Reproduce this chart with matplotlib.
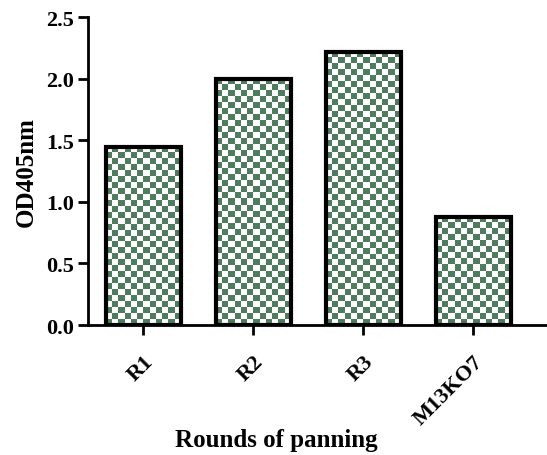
import matplotlib
matplotlib.use("Agg")
import matplotlib.pyplot as plt
import numpy as np

rounds = ["R1", "R2", "R3", "M13KO7"]
od405 = [1.45, 2.00, 2.22, 0.88]

plt.rcParams["font.family"] = ["Liberation Serif", "DejaVu Serif"]
plt.rcParams["font.weight"] = "bold"

fig = plt.figure(figsize=(5.47, 4.56), dpi=100)
ax = fig.add_axes([0.161, 0.285, 0.839, 0.675])

x = np.arange(len(rounds))
bars = ax.bar(x, od405, width=0.68, facecolor="none", edgecolor="black",
              linewidth=3.0, zorder=3)

ax.set_xlim(-0.5, 3.67)
ax.set_ylim(0, 2.5)
fig.canvas.draw()

# checkerboard fill inside each bar
green = np.array([0.31, 0.49, 0.37])
cell = 6  # pixels
for b in bars:
    bx, by = b.get_x(), b.get_y()
    bw, bh = b.get_width(), b.get_height()
    p0 = ax.transData.transform((bx, by))
    p1 = ax.transData.transform((bx + bw, by + bh))
    nx = max(1, int(round((p1[0] - p0[0]) / cell)))
    ny = max(1, int(round((p1[1] - p0[1]) / cell)))
    ii, jj = np.meshgrid(np.arange(nx), np.arange(ny))
    mask = (ii + jj) % 2 == 0
    img = np.ones((ny, nx, 3))
    img[mask] = green
    ax.imshow(img, extent=(bx, bx + bw, by, by + bh), origin="lower",
              interpolation="nearest", aspect="auto", zorder=2)

ax.set_xlim(-0.5, 3.67)
ax.set_ylim(0, 2.5)

ax.spines["top"].set_visible(False)
ax.spines["right"].set_visible(False)
ax.spines["left"].set_linewidth(2)
ax.spines["bottom"].set_linewidth(2)

ax.set_yticks([0.0, 0.5, 1.0, 1.5, 2.0, 2.5])
ax.set_yticklabels(["0.0", "0.5", "1.0", "1.5", "2.0", "2.5"])
ax.set_xticks(x)
ax.set_xticklabels(rounds, rotation=45, ha="right", rotation_mode="anchor")
ax.tick_params(axis="both", width=2, length=7, labelsize=16, pad=3)
ax.tick_params(axis="x", pad=12)

ax.set_ylabel("OD405nm", fontsize=18, fontweight="bold", labelpad=6)
ax.set_xlabel("Rounds of panning", fontsize=18, fontweight="bold")
ax.xaxis.set_label_coords(0.41, -0.335)

fig.savefig("out.png", dpi=100)
